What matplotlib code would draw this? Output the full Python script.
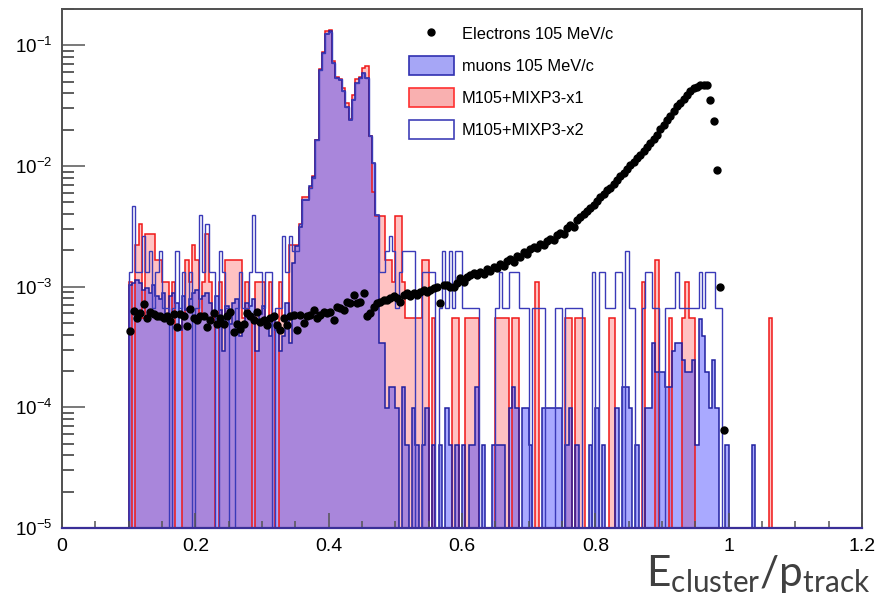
import numpy as np
import matplotlib
matplotlib.use("Agg")
import matplotlib.pyplot as plt
from matplotlib.patches import Patch
from matplotlib.lines import Line2D
from matplotlib.ticker import MultipleLocator, LogLocator, FuncFormatter, NullFormatter

plt.rcParams['font.family'] = ['Liberation Sans', 'DejaVu Sans']

# binning: 0.005 wide bins starting at 0.1
bin_lo = 0.1
bin_w = 0.005

# bin contents (counts); one count = the unit below
muon_unit = 4.9e-5
muon_counts = [
    21, 22, 23, 22, 19, 20, 18, 21, 17, 16, 18, 12, 17, 18, 15, 9, 17, 13, 16, 18,
    19, 16, 17, 18, 15, 12, 17, 13, 6, 14, 10, 15, 16, 8, 10, 15, 14, 16, 6, 12,
    14, 10, 8, 11, 9, 6, 8, 15, 7, 32, 44, 64, 107, 107, 138, 167, 336, 1282, 1774, 2550,
    2660, 1465, 1098, 1060, 847, 635, 493, 722, 1000, 1098, 1210, 1100, 359, 217, 80, 7, 7, 2, 3, 3,
    2, 0, 3, 1, 0, 2, 1, 0, 1, 2, 0, 1, 0, 1, 0, 2, 1, 0, 1, 0,
    1, 0, 1, 1, 3, 0, 1, 0, 0, 1, 1, 1, 1, 0, 2, 3, 2, 0, 2, 2,
    1, 0, 0, 0, 2, 2, 2, 2, 2, 2, 0, 1, 2, 0, 1, 0, 0, 0, 1, 0,
    2, 0, 1, 0, 0, 0, 2, 0, 3, 3, 2, 0, 1, 0, 0, 2, 2, 7, 4, 4,
    4, 3, 3, 6, 7, 7, 5, 4, 4, 5, 1, 11, 8, 4, 2, 5, 2, 0, 0, 1,
    0, 0, 0, 0, 0, 0, 0, 1, 0, 0, 0, 0, 0, 0, 0, 0, 0, 0, 0, 0,
]

x1_unit = 5.5e-4
x1_counts = [
    2, 0, 4, 6, 1, 5, 5, 5, 3, 3, 2, 2, 1, 2, 0, 0, 1, 3, 2, 4,
    3, 1, 2, 5, 2, 1, 0, 2, 1, 3, 3, 3, 3, 3, 1, 2, 1, 0, 2, 2,
    2, 1, 2, 1, 0, 2, 1, 1, 4, 4, 4, 6, 10, 10, 12, 15, 30, 115, 160, 240,
    245, 135, 100, 95, 80, 60, 45, 70, 95, 100, 118, 122, 32, 11, 7, 7, 7, 3, 3, 2,
    7, 7, 2, 1, 1, 1, 1, 1, 3, 3, 0, 1, 0, 0, 0, 0, 0, 1, 1, 0,
    0, 1, 1, 1, 1, 0, 0, 0, 0, 0, 1, 1, 1, 1, 0, 1, 1, 0, 0, 0,
    0, 0, 2, 0, 0, 0, 0, 0, 0, 0, 0, 1, 1, 0, 1, 1, 1, 0, 0, 0,
    0, 0, 0, 0, 1, 1, 0, 0, 0, 0, 0, 0, 0, 0, 2, 0, 0, 0, 3, 0,
    0, 0, 1, 0, 0, 0, 1, 2, 1, 1, 0, 0, 0, 0, 0, 0, 0, 0, 0, 0,
    0, 0, 0, 0, 0, 0, 0, 0, 0, 0, 0, 0, 1, 0, 0, 0, 0, 0, 0, 0,
]

x2_unit = 6.6e-4
x2_counts = [
    2, 7, 2, 2, 4, 2, 3, 1, 2, 3, 1, 1, 0, 1, 3, 1, 2, 1, 2, 0,
    1, 6, 2, 5, 2, 2, 0, 3, 2, 1, 0, 0, 1, 2, 1, 1, 2, 6, 2, 2,
    1, 2, 2, 0, 1, 1, 4, 2, 4, 3, 3, 5, 8, 8, 10, 12, 25, 95, 132, 190,
    197, 109, 82, 79, 63, 47, 37, 54, 74, 82, 90, 82, 27, 16, 6, 2, 2, 3, 4, 3,
    1, 2, 3, 3, 3, 3, 0, 0, 2, 2, 2, 2, 0, 1, 3, 1, 3, 1, 3, 3,
    1, 1, 1, 1, 1, 0, 0, 0, 0, 0, 1, 2, 1, 1, 2, 2, 2, 1, 1, 1,
    0, 1, 1, 1, 1, 0, 0, 0, 1, 1, 0, 1, 1, 1, 1, 1, 0, 0, 0, 2,
    0, 2, 2, 1, 1, 1, 2, 2, 0, 3, 1, 1, 0, 0, 1, 2, 2, 1, 1, 0,
    0, 1, 1, 1, 2, 1, 1, 1, 1, 1, 1, 2, 1, 2, 2, 2, 1, 1, 0, 0,
    0, 0, 0, 0, 0, 0, 0, 0, 0, 0, 0, 0, 0, 0, 0, 0, 0, 0, 0, 0,
]

# electrons, in units of 1e-4, one point per bin from 0.1
electrons = [
    4.3, 6.3, 5.5, 6.0, 7.2, 5.5, 6.2, 5.9, 5.7, 5.7, 5.5, 5.7, 5.2, 5.9, 4.6, 5.9, 5.7, 4.7, 6.5, 5.5,
    5.3, 5.7, 5.7, 4.6, 5.3, 6.0, 4.9, 5.5, 4.9, 5.7, 6.2, 4.2, 4.9, 4.5, 4.9, 6.0, 5.7, 5.3, 6.2, 5.1,
    5.3, 4.8, 5.5, 5.7, 4.8, 4.4, 5.5, 4.8, 5.7, 5.8, 4.4, 5.8, 5.0, 5.7, 5.8, 6.4, 5.5, 5.8, 6.2, 6.0,
    6.2, 5.3, 6.8, 6.6, 6.4, 7.5, 7.3, 8.5, 7.3, 7.5, 8.8, 5.7, 6.0, 6.8, 7.3, 7.5, 7.8, 7.8, 8.0, 8.3,
    8.0, 7.5, 8.5, 8.8, 8.3, 8.8, 8.5, 9.1, 9.4, 9.1, 9.4, 9.7, 10.0, 7.3, 10.3, 10.3, 10.0, 10.0, 10.7, 11.7,
    11.0, 12.1, 12.5, 12.9, 12.6, 13.2, 12.8, 13.9, 13.5, 14.6, 14.2, 15.5, 14.9, 16.3, 16.9, 16.1, 18.0, 17.6, 19.2, 18.7,
    20.4, 21.3, 20.8, 22.6, 22.0, 23.9, 24.8, 24.2, 26.9, 28.0, 27.2, 30.9, 32.5, 31.4, 35.6, 37.9, 40.2, 42.0, 44.9, 47.8,
    51.6, 55.0, 58.2, 62.7, 66.1, 70.9, 76.8, 82.3, 88.0, 94.5, 101, 108, 116, 124, 133, 143, 155, 167, 180, 203,
    218, 241, 262, 285, 312, 334, 362, 391, 415, 440, 455, 470, 472, 465, 349, 234, 92, 10, 0.65,
]

labels = ["Electrons 105 MeV/c", "muons 105 MeV/c", "M105+MIXP3-x1", "M105+MIXP3-x2"]

floor = 1e-8
edges = bin_lo + bin_w * np.arange(len(muon_counts) + 1)


def scaled(counts, unit):
    v = np.asarray(counts, dtype=float) * unit
    v[v <= 0] = floor
    return v


muon = scaled(muon_counts, muon_unit)
x1 = scaled(x1_counts, x1_unit)
x2 = scaled(x2_counts, x2_unit)
ex = edges[:len(electrons)] + bin_w / 2
ey = np.asarray(electrons) * 1e-4

red_fill = (1.0, 0.0, 0.0, 0.24)
blue_fill = (0.2, 0.2, 1.0, 0.42)
red_line = '#f01818'
muon_line = '#2020a0'
x2_line = '#3a3ab8'

fig = plt.figure(figsize=(8.88, 6.03), dpi=100)
ax = fig.add_axes([62 / 888, 75 / 603, 800 / 888, 519 / 603])
ax.set_yscale('log')

ax.stairs(x1, edges, baseline=floor, fill=True, color=red_fill, lw=0)
ax.stairs(muon, edges, baseline=floor, fill=True, color=blue_fill, lw=0)
ax.stairs(x1, edges, baseline=floor, color=red_line, lw=1.1)
ax.stairs(muon, edges, baseline=floor, color=muon_line, lw=1.1)
ax.stairs(x2, edges, baseline=floor, color=x2_line, lw=1.0)
ax.plot(ex, ey, 'o', color='black', ms=5, zorder=5)

ax.set_xlim(0, 1.2)
ax.set_ylim(1e-5, 0.2)

ax.xaxis.set_major_locator(MultipleLocator(0.2))
ax.xaxis.set_minor_locator(MultipleLocator(0.05))
ax.xaxis.set_major_formatter(FuncFormatter(lambda v, p: '%g' % round(v, 2)))
ax.yaxis.set_major_locator(LogLocator(base=10, numticks=10))
ax.yaxis.set_minor_locator(LogLocator(base=10, subs=np.arange(2, 10), numticks=10))
ax.yaxis.set_minor_formatter(NullFormatter())

ax.tick_params(axis='y', which='major', direction='in', length=16.5, width=1.1,
               color='#555555', labelsize=13.5, pad=7)
ax.tick_params(axis='y', which='minor', direction='in', length=8.5, width=1.1, color='#333333')
ax.tick_params(axis='x', which='major', direction='in', length=11, width=1.1,
               color='#555555', labelsize=14, pad=7)
ax.tick_params(axis='x', which='minor', direction='in', length=5, width=1.1, color='#555555')

for side in ['left', 'top', 'right']:
    ax.spines[side].set_color('#505050')
    ax.spines[side].set_linewidth(1.4)
ax.spines['bottom'].set_color('#3a2f98')
ax.spines['bottom'].set_linewidth(1.6)

handles = [
    Line2D([], [], ls='none', marker='o', color='black', ms=5),
    Patch(facecolor='#a6a6f6', edgecolor='#3030b0', lw=1.2),
    Patch(facecolor='#f9b0b0', edgecolor='#ff3030', lw=1.2),
    Patch(facecolor='white', edgecolor='#4040b8', lw=1.2),
]
ax.legend(handles, labels, loc='upper left', bbox_to_anchor=(0.425, 0.983), frameon=False,
          fontsize=11.8, handlelength=2.75, handleheight=1.4, labelspacing=0.8,
          handletextpad=0.5, borderaxespad=0)

fig.text(870 / 888, 8 / 603, r'E$_{\mathregular{cluster}}$/p$_{\mathregular{track}}$',
         ha='right', va='bottom', fontsize=30.5, family='Lato', color='#404040')

fig.savefig('out.png', dpi=100)
